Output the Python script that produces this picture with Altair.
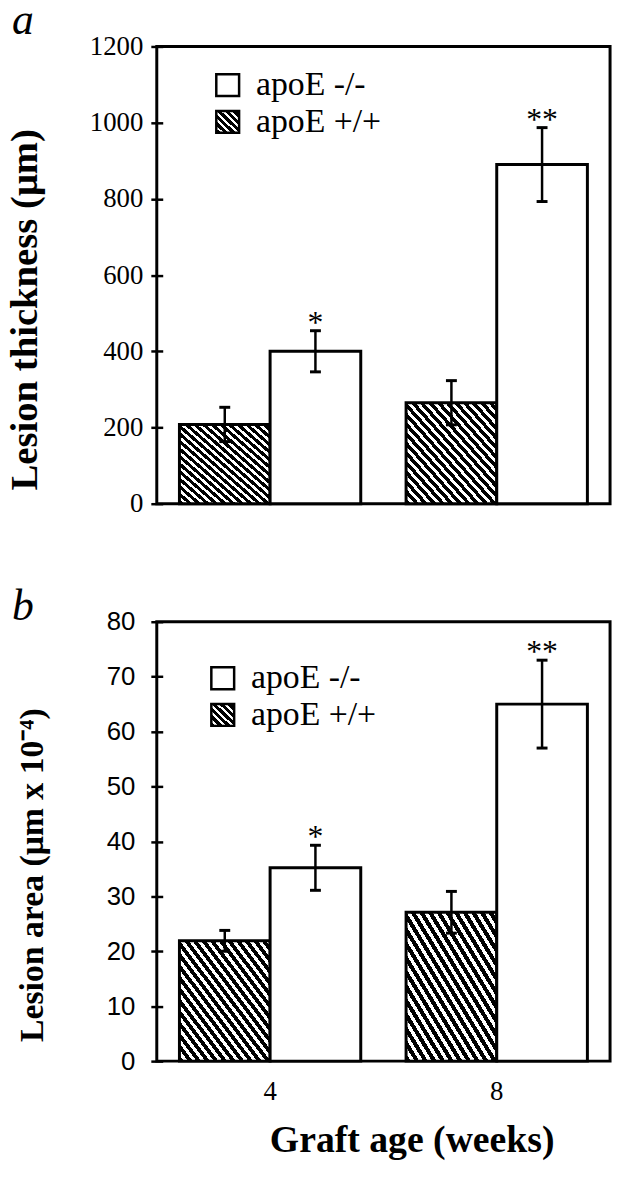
import altair as alt
import pandas as pd

# ---------------- data ----------------
ages = ["4", "8"]
genotypes = ["apoE +/+", "apoE -/-"]
legend_order = ["apoE -/-", "apoE +/+"]

thick_wt = [208, 265]
thick_wt_err = [45, 58]
thick_ko = [400, 890]
thick_ko_err = [54, 97]
thick_marks = ["*", "**"]
thick_ticks = [0, 200, 400, 600, 800, 1000, 1200]

area_wt = [21.9, 27.1]
area_wt_err = [1.9, 3.8]
area_ko = [35.2, 65.0]
area_ko_err = [4.1, 8.0]
area_marks = ["*", "**"]
area_ticks = [0, 10, 20, 30, 40, 50, 60, 70, 80]

panel_letters = ["a", "b"]
y_titles = ["Lesion thickness (μm)", "Lesion area (μm x 10⁻⁴)"]
x_title = "Graft age (weeks)"

SERIF = "Liberation Serif"
SANS = "Liberation Sans"
W = 457


def table(wt, wt_err, ko, ko_err, marks):
    rows = []
    for i, age in enumerate(ages):
        rows.append(dict(age=age, genotype=genotypes[0], value=wt[i],
                         lo=wt[i] - wt_err[i], hi=wt[i] + wt_err[i], star=""))
        rows.append(dict(age=age, genotype=genotypes[1], value=ko[i],
                         lo=ko[i] - ko_err[i], hi=ko[i] + ko_err[i], star=marks[i]))
    return pd.DataFrame(rows)


def stripes(n, black_frac=0.55):
    stops = []
    for i in range(n):
        a = i / n
        b = (i + black_frac) / n
        c = min((i + 1) / n, 1.0)
        stops += [{"offset": a, "color": "black"}, {"offset": b, "color": "black"},
                  {"offset": b, "color": "white"}, {"offset": c, "color": "white"}]
    return {"gradient": "linear", "stops": stops, "x1": 0, "y1": 1, "x2": 1, "y2": 0}


def panel(df, height, ymax, ticks, ytitle, title_x, title_y, title_size,
          tick_font, tick_size, tick_pad, letter, letter_y, leg_x, leg_y1, leg_y2, show_x):
    if show_x:
        x_axis = alt.Axis(labels=True, ticks=False, domain=False, labelAngle=0,
                          labelFont=SERIF, labelFontSize=27, labelPadding=18,
                          labelColor="black", title=x_title, titleFont=SERIF,
                          titleFontSize=38, titleFontWeight="bold", titleColor="black",
                          titleX=257, titleY=80, titleBaseline="middle", titleAlign="center")
    else:
        x_axis = alt.Axis(labels=False, ticks=False, domain=False, title=None)

    x_enc = alt.X("age:N", scale=alt.Scale(domain=ages, paddingInner=0.2, paddingOuter=0.1),
                  axis=x_axis)
    xo_enc = alt.XOffset("genotype:N", scale=alt.Scale(domain=genotypes, paddingInner=0,
                                                        paddingOuter=0))
    y_scale = alt.Scale(domain=[0, ymax], nice=False, zero=True)
    y_axis = alt.Axis(values=ticks, format="d", offset=-6, domain=False, grid=False,
                      tickSize=12, tickWidth=2.5, tickColor="black", labelFont=tick_font,
                      labelFontSize=tick_size, labelColor="black", labelPadding=tick_pad,
                      title=ytitle, titleFont=SERIF, titleFontSize=title_size,
                      titleFontWeight="bold", titleColor="black", titleX=title_x,
                      titleY=title_y, titleBaseline="middle", titleAlign="center",
                      titleAngle=270)

    base = alt.Chart(df).encode(x=x_enc, xOffset=xo_enc)

    wt_bars = base.transform_filter(alt.datum.genotype == genotypes[0]).mark_bar(
        fill=stripes(21), stroke="black", strokeWidth=3
    ).encode(y=alt.Y("value:Q", scale=y_scale, axis=y_axis))
    ko_bars = base.transform_filter(alt.datum.genotype == genotypes[1]).mark_bar(
        fill="white", stroke="black", strokeWidth=3
    ).encode(y=alt.Y("value:Q"))
    err = base.mark_rule(color="black", strokeWidth=2.5).encode(y="lo:Q", y2="hi:Q")
    cap_hi = base.mark_tick(orient="horizontal", color="black", size=11, thickness=3,
                            opacity=1).encode(y="hi:Q")
    cap_lo = base.mark_tick(orient="horizontal", color="black", size=11, thickness=3,
                            opacity=1).encode(y="lo:Q")
    stars = base.transform_filter(alt.datum.star != "").mark_text(
        font=SERIF, fontSize=32, color="black", baseline="alphabetic", dy=2
    ).encode(y="hi:Q", text="star:N")

    leg = pd.DataFrame({"genotype": legend_order})
    leg_chart = alt.Chart(leg)
    sq_white = leg_chart.transform_filter(alt.datum.genotype == genotypes[1]).mark_rect(
        fill="white", stroke="black", strokeWidth=2.5
    ).encode(x=alt.value(leg_x), x2=alt.value(leg_x + 23),
             y=alt.value(leg_y1 - 11), y2=alt.value(leg_y1 + 11))
    sq_hatch = leg_chart.transform_filter(alt.datum.genotype == genotypes[0]).mark_rect(
        fill=stripes(6, 0.6), stroke="black", strokeWidth=2.5
    ).encode(x=alt.value(leg_x), x2=alt.value(leg_x + 23),
             y=alt.value(leg_y2 - 11), y2=alt.value(leg_y2 + 11))
    txt_white = leg_chart.transform_filter(alt.datum.genotype == genotypes[1]).mark_text(
        font=SERIF, fontSize=34, color="black", align="left", baseline="middle"
    ).encode(x=alt.value(leg_x + 40), y=alt.value(leg_y1), text="genotype:N")
    txt_hatch = leg_chart.transform_filter(alt.datum.genotype == genotypes[0]).mark_text(
        font=SERIF, fontSize=34, color="black", align="left", baseline="middle"
    ).encode(x=alt.value(leg_x + 40), y=alt.value(leg_y2), text="genotype:N")

    let = alt.Chart(pd.DataFrame({"letter": [letter]})).mark_text(
        font=SERIF, fontStyle="italic", fontSize=44, color="black", align="left",
        baseline="alphabetic"
    ).encode(x=alt.value(-146), y=alt.value(letter_y), text="letter:N")

    return alt.layer(wt_bars, ko_bars, err, cap_hi, cap_lo, stars,
                     sq_white, sq_hatch, txt_white, txt_hatch, let).properties(
        width=W, height=height)


top = panel(table(thick_wt, thick_wt_err, thick_ko, thick_ko_err, thick_marks),
            461, 1200, thick_ticks, y_titles[0], -139, 265, 39, SERIF, 27, 8,
            panel_letters[0], -13, 60, 39, 76, False)
bottom = panel(table(area_wt, area_wt_err, area_ko, area_ko_err, area_marks),
               443, 80, area_ticks, y_titles[1], -131, 255, 34, SANS, 26, 16,
               panel_letters[1], -2, 55, 57, 94, True)

chart = alt.vconcat(top, bottom, spacing=119, bounds="flush").properties(
    padding={"left": -4, "top": -16, "right": 5, "bottom": 5}
).configure(background="white").configure_view(stroke="black", strokeWidth=3)

chart.save("out.html", embed_options={"renderer": "svg", "actions": False})
